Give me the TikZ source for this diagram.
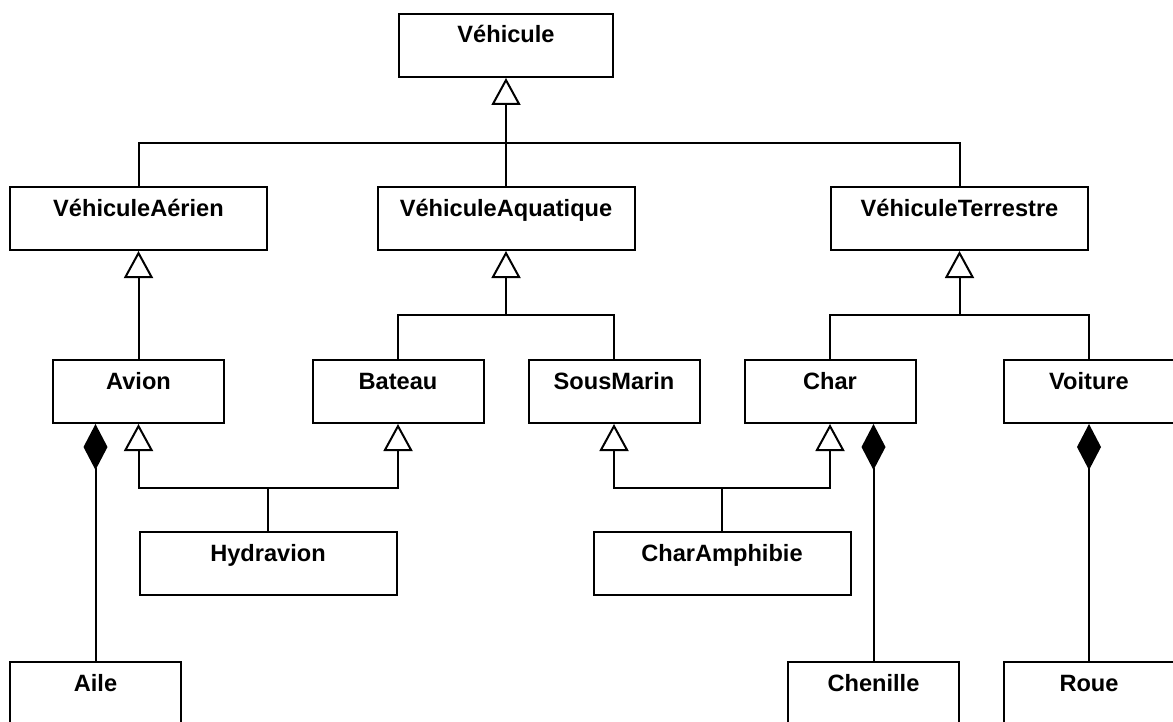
\documentclass[tikz,border=0pt]{standalone}
\usepackage{fontspec}
\setmainfont{Liberation Sans}
\usetikzlibrary{arrows.meta}
\begin{document}
\begin{tikzpicture}[x=0.5pt,y=-0.5pt,line width=1pt,line join=miter,
    font=\fontsize{11.8}{14}\selectfont\bfseries,
    cls/.style={draw,rectangle,inner ysep=0pt,text height=14.5pt,text depth=17pt,minimum width=85.5pt},
    wide/.style={cls,minimum width=128.5pt},
    gen/.style={-{Triangle[open,length=13.5pt,width=14.5pt]}},
    comp/.style={{Diamond[length=23pt,width=12pt]}-}]
    \useasboundingbox (0,0) rectangle (1173,722);
    % classes
    \node[cls,minimum width=107pt] (V) at (506,45.5) {Véhicule};
    \node[wide] (VA)  at (138.5,218.5) {VéhiculeAérien};
    \node[wide] (VAq) at (506,218.5) {VéhiculeAquatique};
    \node[wide] (VT)  at (959.5,218.5) {VéhiculeTerrestre};
    \node[cls] (Av)  at (138.5,391.5) {Avion};
    \node[cls] (Bat) at (398,391.5) {Bateau};
    \node[cls] (SM)  at (614,391.5) {SousMarin};
    \node[cls] (Ch)  at (830,391.5) {Char};
    \node[cls] (Vo)  at (1089,391.5) {Voiture};
    \node[wide] (Hy) at (268,563.5) {Hydravion};
    \node[wide] (CA) at (722,563.5) {CharAmphibie};
    \node[cls] (Ai) at (95.5,693.5) {Aile};
    \node[cls] (Chn) at (873.5,693.5) {Chenille};
    \node[cls] (Ro) at (1089,693.5) {Roue};
    % junctions
    \coordinate (j1) at (506,143);
    \coordinate (j2) at (506,315);
    \coordinate (j3) at (959.5,315);
    \coordinate (j4) at (268,488);
    \coordinate (j5) at (722,488);
    % generalisations
    \draw (VA.north) |- (j1) -| (VT.north);
    \draw[gen] (VAq.north) -- (V.south);
    \draw[gen] (Av.north) -- (VA.south);
    \draw (Bat.north) |- (j2) -| (SM.north);
    \draw[gen] (j2) -- (VAq.south);
    \draw (Ch.north) |- (j3) -| (Vo.north);
    \draw[gen] (j3) -- (VT.south);
    \draw (Hy.north) -- (j4);
    \draw[gen] (j4) -| (Av.south);
    \draw[gen] (j4) -| (Bat.south);
    \draw (CA.north) -- (j5);
    \draw[gen] (j5) -| (SM.south);
    \draw[gen] (j5) -| (Ch.south);
    % compositions
    \draw[comp,fill=black] (Ai.north |- Av.south) -- (Ai.north);
    \draw[comp,fill=black] (Chn.north |- Ch.south) -- (Chn.north);
    \draw[comp,fill=black] (Vo.south) -- (Ro.north);
\end{tikzpicture}
\end{document}
